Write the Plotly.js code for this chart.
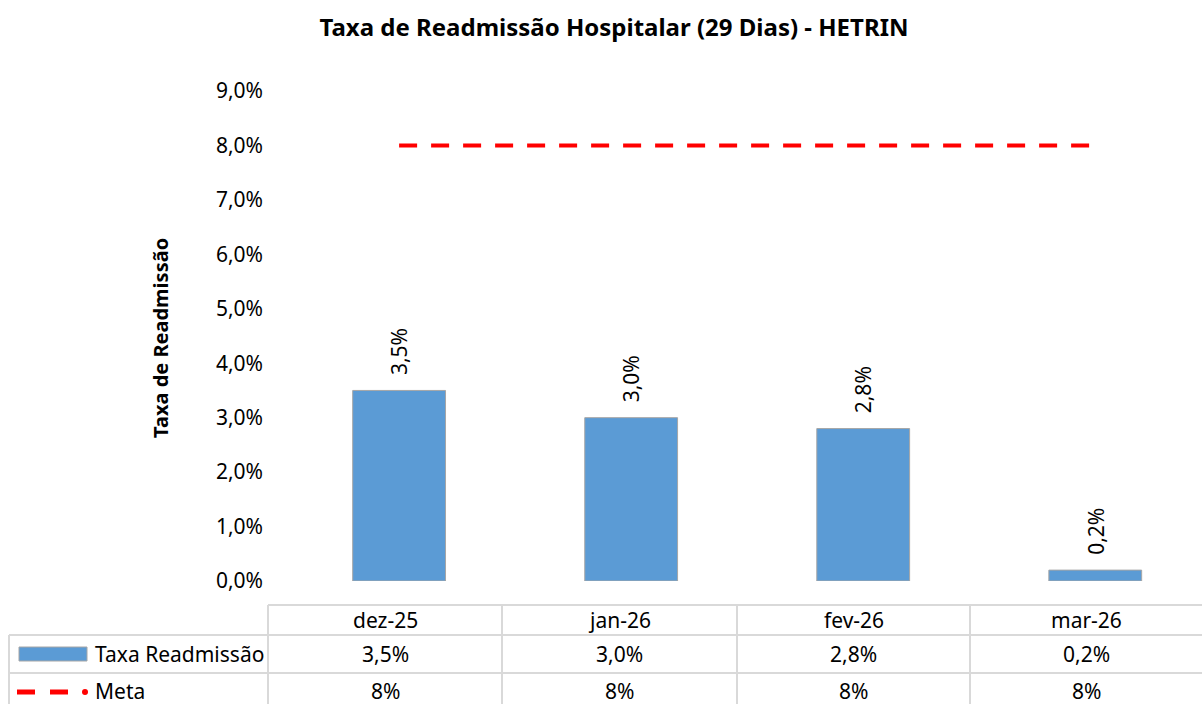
<!DOCTYPE html>
<html>
<head>
<meta charset="utf-8">
<script src="https://cdn.plot.ly/plotly-3.0.1.min.js"></script>
<style>html,body{margin:0;padding:0;background:#fff;}#chart{width:1202px;height:704px;}</style>
</head>
<body>
<div id="chart"></div>
<script>
// ---- data ----
const categories = ["dez-25", "jan-26", "fev-26", "mar-26"];
const taxaReadmissao = [0.035, 0.030, 0.028, 0.002];
const meta = [0.08, 0.08, 0.08, 0.08];
const seriesNames = ["Taxa Readmissão", "Meta"];
const yTicks = [0, 0.01, 0.02, 0.03, 0.04, 0.05, 0.06, 0.07, 0.08, 0.09];

// ---- layout geometry (pixels) ----
const W = 1202, H = 704;
const plotL = 268, plotR = 1202, plotT = 91, plotB = 581;
const px = x => (x - plotL) / (plotR - plotL);
const py = y => (plotB - y) / (plotB - plotT);
const FONT = "Noto Sans, Open Sans, sans-serif";
const FS = 21;

const colEdges = [268, 502, 737, 970, 1202];
const rowEdges = [605, 635, 673, 711];
const gridColor = "#D9D9D9";

const fmt1 = v => (v * 100).toFixed(1).replace(".", ",") + "%";
const fmt0 = v => (v * 100).toFixed(0) + "%";

const traces = [
  {
    type: "bar",
    name: seriesNames[0],
    x: categories,
    y: taxaReadmissao,
    marker: {color: "#5B9BD5", line: {color: "#A6A6A6", width: 1}},
    hoverinfo: "skip"
  },
  {
    type: "scatter",
    mode: "lines",
    name: seriesNames[1],
    x: categories,
    y: meta,
    line: {color: "#FF0000", width: 4, dash: "18px,14px"},
    hoverinfo: "skip"
  }
];

const shapes = [];
const annotations = [];

// data labels above bars
categories.forEach((c, i) => annotations.push({
  x: c, y: taxaReadmissao[i], xref: "x", yref: "y",
  text: fmt1(taxaReadmissao[i]), textangle: -90, showarrow: false,
  xanchor: "center", yanchor: "bottom", yshift: 13,
  font: {family: FONT, size: FS, color: "#000"}
}));

const line = (x0, y0, x1, y1) => shapes.push({
  type: "line", xref: "paper", yref: "paper",
  x0: px(x0), x1: px(x1), y0: py(y0), y1: py(y1),
  line: {color: gridColor, width: 2}
});

// header row
line(colEdges[0], rowEdges[0], colEdges[4], rowEdges[0]);
// data rows
for (let r = 1; r < rowEdges.length; r++) line(9, rowEdges[r], colEdges[4], rowEdges[r]);
// verticals
line(9, rowEdges[1], 9, H);
for (let c = 0; c < 4; c++) line(colEdges[c], rowEdges[0], colEdges[c], H);

const cellText = (text, x, y, anchor) => annotations.push({
  xref: "paper", yref: "paper", x: px(x), y: py(y),
  text: text, showarrow: false, xanchor: anchor || "center", yanchor: "middle",
  font: {family: FONT, size: FS, color: "#000"}
});

for (let c = 0; c < categories.length; c++) {
  const cx = (colEdges[c] + colEdges[c + 1]) / 2;
  cellText(categories[c], cx, (rowEdges[0] + rowEdges[1]) / 2);
  cellText(fmt1(taxaReadmissao[c]), cx, (rowEdges[1] + rowEdges[2]) / 2);
  cellText(fmt0(meta[c]), cx, (rowEdges[2] + rowEdges[3]) / 2 - 1);
}
// legend keys in table
shapes.push({type: "rect", xref: "paper", yref: "paper",
  x0: px(19), x1: px(87), y0: py(647), y1: py(661),
  fillcolor: "#5B9BD5", line: {color: "#A6A6A6", width: 1}});
[[17, 35], [50, 68]].forEach(([a, b]) => shapes.push({type: "line", xref: "paper", yref: "paper",
  x0: px(a), x1: px(b), y0: py(692), y1: py(692), line: {color: "#FF0000", width: 5}}));
shapes.push({type: "circle", xref: "paper", yref: "paper",
  x0: px(82), x1: px(88), y0: py(689), y1: py(695), fillcolor: "#FF0000", line: {width: 0}});
cellText(seriesNames[0], 93, (rowEdges[1] + rowEdges[2]) / 2, "left");
cellText(seriesNames[1], 93, (rowEdges[2] + rowEdges[3]) / 2 - 1, "left");

// y-axis title
annotations.push({
  xref: "paper", yref: "paper", x: px(160), y: py(338),
  text: "<b>Taxa de Readmissão</b>", textangle: -90, showarrow: false,
  xanchor: "center", yanchor: "middle",
  font: {family: FONT, size: 20, color: "#000"}
});

const layout = {
  width: W, height: H,
  margin: {l: plotL, r: W - plotR, t: plotT, b: H - plotB, pad: 0},
  paper_bgcolor: "#fff", plot_bgcolor: "#fff",
  separators: ",.",
  showlegend: false,
  bargap: 0.6,
  title: {text: "<b>Taxa de Readmissão Hospitalar (29 Dias) - HETRIN</b>",
    font: {family: FONT, size: 24, color: "#000"},
    x: 614 / W, xanchor: "center", y: 1 - 28 / H, yanchor: "middle"},
  xaxis: {type: "category", range: [-0.565, 3.46], showticklabels: false,
    showgrid: false, zeroline: false, showline: false, ticks: "", fixedrange: true},
  yaxis: {range: [0, 0.09], tickvals: yTicks, tickformat: ".1%",
    showgrid: false, zeroline: false, showline: false, ticks: "",
    ticklabelstandoff: 4,
    tickfont: {family: FONT, size: FS, color: "#000"}, fixedrange: true},
  shapes: shapes,
  annotations: annotations
};

Plotly.newPlot("chart", traces, layout, {staticPlot: true, displayModeBar: false});
</script>
</body>
</html>
